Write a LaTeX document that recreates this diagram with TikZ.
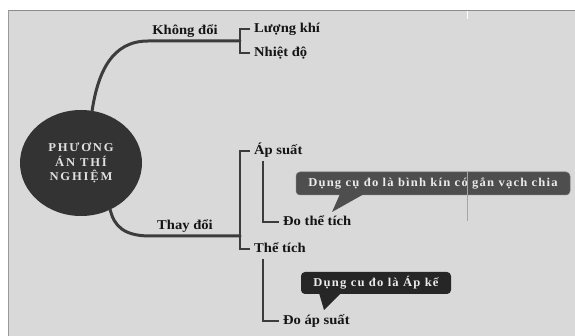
\documentclass[tikz,border=0pt]{standalone}
\usepackage{fontspec}
\setmainfont{Liberation Serif}
\newfontfamily\lblfont[FakeStretch=1.08]{Liberation Serif}
\newfontfamily\callfont[FakeStretch=1.05,LetterSpace=10]{Liberation Serif}
\newfontfamily\circfont[FakeStretch=1.05,LetterSpace=15]{Liberation Serif}
\usetikzlibrary{shapes.geometric,calc}
\definecolor{bgc}{HTML}{D9D9D9}
\definecolor{linec}{HTML}{3C3C3C}
\definecolor{callA}{HTML}{4E4E4E}
\definecolor{callB}{HTML}{262626}
\begin{document}
\begin{tikzpicture}[x=1pt,y=-1pt,
  lbl/.style={font=\lblfont\bfseries\fontsize{13.5}{15}\selectfont, text=black!92, inner sep=2pt, text height=9pt, text depth=2.5pt},
  branch/.style={draw=linec, line width=3pt, line cap=round},
  brk/.style={draw=linec, line width=1.2pt},
  callbox/.style={rounded corners=4pt, inner sep=0pt, font=\callfont\bfseries\fontsize{12}{13}\selectfont, text=white!92!black},
]
\useasboundingbox (0,0) rectangle (575,336);
\fill[white] (0,0) rectangle (575,336);
\fill[bgc] (8,10) rectangle (575,336);
\draw[black!45, line width=1.4pt] (8,10.5) -- (575,10.5);
\draw[black!40, line width=1.4pt] (8.5,10) -- (8.5,336);
\draw[white, line width=0.8pt] (467,11) -- (467,19);

% central ellipse
\node[ellipse, fill=black!80, minimum width=122pt, minimum height=106pt, inner sep=0pt,
  align=center, text=white!88!black, font=\circfont\bfseries\fontsize{12}{14.5}\selectfont] (circ) at (81,163) {PHƯƠNG\\ÁN THÍ\\NGHIỆM};

% level 1 labels
\node[lbl] (kd) at (185,31) {Không đổi};
\node[lbl] (td) at (185,226) {Thay đổi};
\coordinate (j1) at (240,41);
\coordinate (j2) at (240,236);

% branches
\draw[branch] (circ.78) .. controls (98,72) and (112,41) .. (148,41) -- (j1);
\draw[branch] (circ.-58) .. controls (114,226) and (124,236) .. (150,236) -- (j2);

% level 2 labels
\node[lbl, anchor=west] (lk) at (252,29) {Lượng khí};
\node[lbl, anchor=west] (nd) at (252,53) {Nhiệt độ};
\node[lbl, anchor=west] (as) at (252,151) {Áp suất};
\node[lbl, anchor=west] (tt) at (252,249) {Thể tích};
\node[lbl, anchor=west] (dt) at (281,222) {Đo thể tích};
\node[lbl, anchor=west] (da) at (281,321) {Đo áp suất};

% brackets
\draw[brk] ([xshift=-2pt]lk.west) -| (j1) |- ([xshift=-2pt]nd.west);
\draw[brk] ([xshift=-2pt]as.west) -| (j2) |- ([xshift=-2pt]tt.west);
\coordinate (s1) at (263,161);
\coordinate (s2) at (263,259);
\draw[brk] (s1) |- ([xshift=-2pt]dt.west);
\draw[brk] (s2) |- ([xshift=-2pt]da.west);

% callouts
\node[callbox, fill=callA, draw=black!55, line width=0.5pt, minimum width=274pt, minimum height=23pt] (c1) at (433,183.5) {Dụng cụ đo là bình kín có gắn vạch chia};
\coordinate (p1) at (332,212);
\fill[callA] (340,194) -- (p1) -- (364,194) -- cycle;
\node[callbox, fill=callB, minimum width=150pt, minimum height=22pt] (c2) at (376,283) {Dụng cu đo là Áp kế};
\coordinate (p2) at (324,310);
\fill[callB] (319,293) -- (p2) -- (341,293) -- cycle;

\draw[black!35, line width=0.6pt] (467,172) -- (467,221);
\end{tikzpicture}
\end{document}
